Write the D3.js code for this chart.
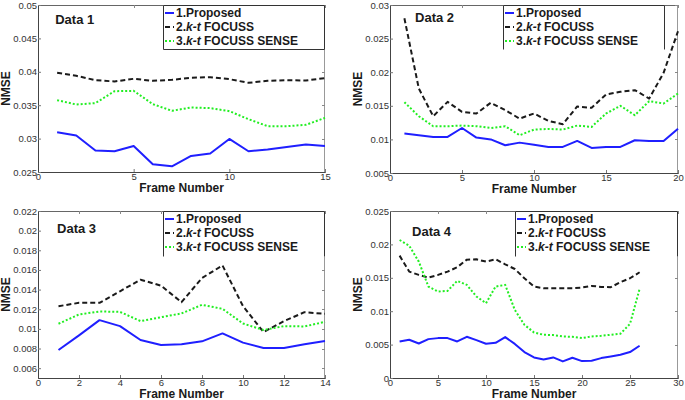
<!DOCTYPE html>
<html>
<head>
<meta charset="utf-8">
<script src="https://cdn.jsdelivr.net/npm/d3@7"></script>
<style>
body { margin: 0; background: #fff; }
svg { display: block; }
text { font-family: "Liberation Sans", Arial, sans-serif; }
</style>
</head>
<body>
<div id="chart"></div>
<script>

// ---- data ----
var frames1 = [1,2,3,4,5,6,7,8,9,10,11,12,13,14,15];
var proposed1 = [0.03095,0.03046,0.02821,0.02811,0.0289,0.02616,0.02586,0.02741,0.02776,0.02995,0.02811,0.02836,0.02875,0.02911,0.0289];
var focuss1 = [0.03985,0.0394,0.03875,0.03855,0.03895,0.03865,0.0388,0.0391,0.0392,0.0389,0.03835,0.03865,0.03875,0.0387,0.03905];
var sense1 = [0.03575,0.03511,0.03531,0.0371,0.03715,0.03516,0.03416,0.03466,0.03456,0.03411,0.03291,0.03186,0.03186,0.03206,0.03311];

var frames2 = [1,2,3,4,5,6,7,8,9,10,11,12,13,14,15,16,17,18,19,20];
var proposed2 = [0.01087,0.01062,0.01037,0.01037,0.0117,0.01027,0.01,0.00913,0.00952,0.00922,0.00888,0.00888,0.00977,0.00873,0.00888,0.00888,0.00987,0.00977,0.00977,0.0116];
var focuss2 = [0.02802,0.01758,0.01345,0.01559,0.0141,0.01385,0.01545,0.01435,0.0131,0.01385,0.01275,0.01226,0.0149,0.0147,0.01668,0.01708,0.01733,0.01608,0.01991,0.0261];
var sense2 = [0.01554,0.01345,0.01196,0.01196,0.01206,0.01196,0.0117,0.01196,0.01062,0.01146,0.01156,0.01146,0.01206,0.01186,0.01385,0.015,0.0136,0.01569,0.01534,0.01683];

var frames3 = [1,2,3,4,5,6,7,8,9,10,11,12,13,14];
var proposed3 = [0.00785,0.00934,0.01089,0.01028,0.00887,0.00836,0.00843,0.00873,0.00954,0.0086,0.00806,0.00806,0.00843,0.00877];
var focuss3 = [0.01231,0.01265,0.01265,0.01383,0.01501,0.0144,0.01272,0.01518,0.01646,0.01231,0.00968,0.01079,0.0117,0.01153];
var sense3 = [0.01052,0.01147,0.01177,0.01173,0.01079,0.01119,0.01157,0.01245,0.01204,0.01055,0.00988,0.01028,0.01025,0.01072];

var frames4 = [1,2,3,4,5,6,7,8,9,10,11,12,13,14,15,16,17,18,19,20,21,22,23,24,25,26];
var proposed4 = [0.00547,0.00572,0.00517,0.00582,0.00597,0.00597,0.00547,0.00617,0.00567,0.00512,0.00527,0.00612,0.0051,0.00388,0.00308,0.00278,0.00308,0.00248,0.00303,0.00253,0.00258,0.00298,0.00323,0.00348,0.00388,0.00483];
var focuss4 = [0.01832,0.01593,0.01543,0.01503,0.01543,0.01593,0.01658,0.01772,0.01777,0.01742,0.01777,0.01702,0.01632,0.01493,0.01369,0.01344,0.01344,0.01344,0.01344,0.01354,0.01379,0.01364,0.01359,0.01434,0.01493,0.01583];
var sense4 = [0.02066,0.01981,0.01742,0.01369,0.01294,0.01304,0.01454,0.01394,0.0122,0.0112,0.01369,0.01394,0.0102,0.00796,0.00682,0.00647,0.00642,0.00622,0.00617,0.00597,0.00622,0.00632,0.00647,0.00662,0.0081,0.01334];

var xTicks1 = [0,5,10,15];
var xTicks2 = [0,5,10,15,20];
var xTicks3 = [0,2,4,6,8,10,12,14];
var xTicks4 = [0,5,10,15,20,25,30];
var yTicks1 = [0.025,0.03,0.035,0.04,0.045,0.05];
var yTicks2 = [0.005,0.01,0.015,0.02,0.025,0.03];
var yTicks3 = [0.006,0.008,0.01,0.012,0.014,0.016,0.018,0.02,0.022];
var yTicks4 = [0,0.005,0.01,0.015,0.02,0.025];

var titles = ["Data 1", "Data 2", "Data 3", "Data 4"];
var legendNames = [["1.Proposed", ""], ["2.", "k-t"], ["3.", "k-t"]];
var legendTails = ["", " FOCUSS", " FOCUSS SENSE"];
var xLabel = "Frame Number";
var yLabel = "NMSE";

// ---- layout ----
var totalWidth = 685, totalHeight = 400;

var seriesStyle = [
	{ color: "#1f1fff", dash: null },
	{ color: "#1a1a1a", dash: "5,3" },
	{ color: "#22ee22", dash: "2,2" }
];

var panels = [
	{ title: titles[0], frames: frames1, series: [proposed1, focuss1, sense1], xDomain: [0, 15], xTicks: xTicks1, yDomain: [0.025, 0.05], yTicks: yTicks1,
	  box: { left: 38, top: 5, right: 325, bottom: 172 }, titleAt: [0.9, 0.0472], legend: { x: 163, w: 162, h: 44, closed: true } },
	{ title: titles[1], frames: frames2, series: [proposed2, focuss2, sense2], xDomain: [0, 20], xTicks: xTicks2, yDomain: [0.005, 0.03], yTicks: yTicks2,
	  box: { left: 390, top: 5, right: 678, bottom: 173 }, titleAt: [1.74, 0.0275], legend: { x: 503, w: 162, h: 44, closed: false } },
	{ title: titles[2], frames: frames3, series: [proposed3, focuss3, sense3], xDomain: [0, 14], xTicks: xTicks3, yDomain: [0.005, 0.022], yTicks: yTicks3,
	  box: { left: 38, top: 211, right: 325, bottom: 378 }, titleAt: [0.93, 0.01978], legend: { x: 163, w: 162, h: 45, closed: false } },
	{ title: titles[3], frames: frames4, series: [proposed4, focuss4, sense4], xDomain: [0, 30], xTicks: xTicks4, yDomain: [0, 0.025], yTicks: yTicks4,
	  box: { left: 390, top: 211, right: 678, bottom: 378 }, titleAt: [2.3, 0.02126], legend: { x: 515, w: 163, h: 45, closed: false } }
];

var svg = d3.select("#chart").append("svg")
	.attr("width", totalWidth)
	.attr("height", totalHeight);

var tickFormat = d3.format("~g");

panels.forEach(function (p) {
	var b = p.box;
	var width = b.right - b.left;
	var height = b.bottom - b.top;

	var xScale = d3.scaleLinear().domain(p.xDomain).range([0, width]);
	var yScale = d3.scaleLinear().domain(p.yDomain).range([height, 0]);

	var g = svg.append("g")
		.attr("transform", "translate(" + b.left + "," + b.top + ")");

	// frame: top / right lighter
	g.append("line").attr("x1", 0).attr("x2", width).attr("y1", 0.5).attr("y2", 0.5)
		.attr("stroke", "#666").attr("stroke-width", 1);
	g.append("line").attr("x1", width - 0.5).attr("x2", width - 0.5).attr("y1", 0).attr("y2", height)
		.attr("stroke", "#999").attr("stroke-width", 1);

	// inner ticks on right and top
	g.selectAll(".rtick").data(p.yTicks).enter().append("line")
		.attr("x1", width - 3).attr("x2", width)
		.attr("y1", function (d) { return Math.round(yScale(d)) + 0.5; })
		.attr("y2", function (d) { return Math.round(yScale(d)) + 0.5; })
		.attr("stroke", "#888");
	g.selectAll(".ttick").data(p.xTicks).enter().append("line")
		.attr("x1", function (d) { return Math.round(xScale(d)) + 0.5; })
		.attr("x2", function (d) { return Math.round(xScale(d)) + 0.5; })
		.attr("y1", 0).attr("y2", 3)
		.attr("stroke", "#888");

	var xAxis = d3.axisBottom(xScale).tickValues(p.xTicks).tickSize(-3).tickPadding(4).tickFormat(tickFormat);
	var yAxis = d3.axisLeft(yScale).tickValues(p.yTicks).tickSize(-3).tickPadding(1).tickFormat(tickFormat);

	var xAxisGroup = g.append("g")
		.attr("transform", "translate(0," + height + ")")
		.call(xAxis);
	var yAxisGroup = g.append("g").call(yAxis);

	[xAxisGroup, yAxisGroup].forEach(function (ax) {
		ax.select(".domain").attr("stroke", "#444");
		ax.selectAll(".tick line").attr("stroke", "#777");
		ax.selectAll(".tick text")
			.attr("fill", "#333")
			.style("font-size", "9.5px")
			.style("font-family", "'Liberation Sans', Arial, sans-serif");
	});
	xAxisGroup.selectAll(".tick text").attr("dy", "0.45em");

	// lines
	p.series.forEach(function (values, si) {
		var line = d3.line()
			.x(function (d, i) { return xScale(p.frames[i]); })
			.y(function (d) { return yScale(d); });
		g.append("path")
			.datum(values)
			.attr("d", line)
			.attr("fill", "none")
			.attr("stroke", seriesStyle[si].color)
			.attr("stroke-width", 2)
			.attr("stroke-linejoin", "round")
			.attr("stroke-dasharray", seriesStyle[si].dash);
	});

	// title
	g.append("text")
		.attr("x", xScale(p.titleAt[0]))
		.attr("y", yScale(p.titleAt[1]))
		.attr("fill", "#1a1a1a")
		.style("font-size", "13px")
		.style("font-weight", "bold")
		.text(p.title);

	// legend
	var lg = svg.append("g")
		.attr("transform", "translate(" + p.legend.x + "," + b.top + ")");
	lg.append("rect")
		.attr("x", 0).attr("y", 0.5)
		.attr("width", p.legend.w).attr("height", p.legend.h)
		.attr("fill", "#fff");
	var edge = "M0.5," + (p.legend.h + 0.5) + "V0.5H" + (p.legend.w - 0.5) + "V" + (p.legend.h + 0.5);
	if (p.legend.closed) edge += "H0.5";
	lg.append("path")
		.attr("d", edge)
		.attr("fill", "none")
		.attr("stroke", "#333")
		.attr("stroke-width", 1);

	legendNames.forEach(function (nm, i) {
		var yRow = 12 + i * 14;
		lg.append("line")
			.attr("x1", 2).attr("x2", 11)
			.attr("y1", yRow - 4).attr("y2", yRow - 4)
			.attr("stroke", seriesStyle[i].color)
			.attr("stroke-width", 2)
			.attr("stroke-dasharray", seriesStyle[i].dash);
		var t = lg.append("text")
			.attr("x", 13)
			.attr("y", yRow)
			.attr("fill", "#1a1a1a")
			.style("font-size", "12px")
			.style("font-weight", "bold");
		t.append("tspan").text(nm[0]);
		if (nm[1]) t.append("tspan").style("font-style", "italic").text(nm[1]);
		if (legendTails[i]) t.append("tspan").text(legendTails[i]);
	});

	// axis labels
	svg.append("text")
		.attr("x", b.left + width / 2)
		.attr("y", b.bottom + 20)
		.attr("text-anchor", "middle")
		.attr("fill", "#1a1a1a")
		.style("font-size", "12px")
		.style("font-weight", "bold")
		.text(xLabel);

	svg.append("text")
		.attr("transform", "translate(" + (b.left - 28) + "," + (b.top + height / 2) + ") rotate(-90)")
		.attr("text-anchor", "middle")
		.attr("fill", "#1a1a1a")
		.style("font-size", "12px")
		.style("font-weight", "bold")
		.text(yLabel);
});

</script>
</body>
</html>
